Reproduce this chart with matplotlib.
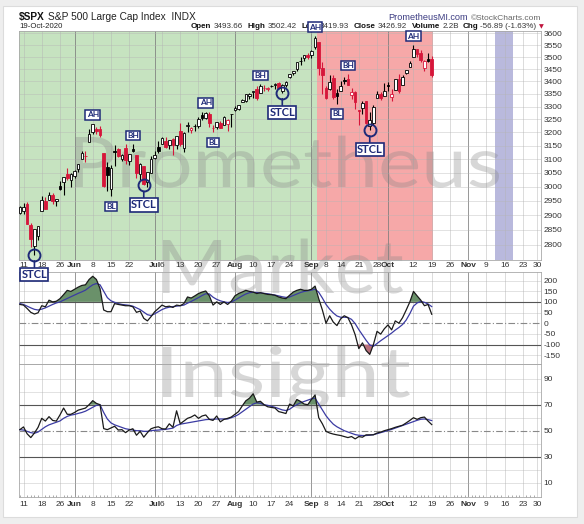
import numpy as np
import matplotlib
matplotlib.use("Agg")
import matplotlib.pyplot as plt
from matplotlib.patches import Rectangle, PathPatch
from matplotlib.textpath import TextPath
from matplotlib.font_manager import FontProperties
from matplotlib.transforms import Affine2D
from matplotlib.ticker import FixedLocator, MultipleLocator, NullLocator, FuncFormatter

plt.rcParams['font.family'] = ['Liberation Sans', 'DejaVu Sans']

# ---------------- data ----------------
dates = ['2020-05-08', '2020-05-11', '2020-05-12', '2020-05-13', '2020-05-14', '2020-05-15',
         '2020-05-18', '2020-05-19', '2020-05-20', '2020-05-21', '2020-05-22',
         '2020-05-26', '2020-05-27', '2020-05-28', '2020-05-29',
         '2020-06-01', '2020-06-02', '2020-06-03', '2020-06-04', '2020-06-05',
         '2020-06-08', '2020-06-09', '2020-06-10', '2020-06-11', '2020-06-12',
         '2020-06-15', '2020-06-16', '2020-06-17', '2020-06-18', '2020-06-19',
         '2020-06-22', '2020-06-23', '2020-06-24', '2020-06-25', '2020-06-26',
         '2020-06-29', '2020-06-30', '2020-07-01', '2020-07-02',
         '2020-07-06', '2020-07-07', '2020-07-08', '2020-07-09', '2020-07-10',
         '2020-07-13', '2020-07-14', '2020-07-15', '2020-07-16', '2020-07-17',
         '2020-07-20', '2020-07-21', '2020-07-22', '2020-07-23', '2020-07-24',
         '2020-07-27', '2020-07-28', '2020-07-29', '2020-07-30', '2020-07-31',
         '2020-08-03', '2020-08-04', '2020-08-05', '2020-08-06', '2020-08-07',
         '2020-08-10', '2020-08-11', '2020-08-12', '2020-08-13', '2020-08-14',
         '2020-08-17', '2020-08-18', '2020-08-19', '2020-08-20', '2020-08-21',
         '2020-08-24', '2020-08-25', '2020-08-26', '2020-08-27', '2020-08-28',
         '2020-08-31', '2020-09-01', '2020-09-02', '2020-09-03', '2020-09-04',
         '2020-09-08', '2020-09-09', '2020-09-10', '2020-09-11',
         '2020-09-14', '2020-09-15', '2020-09-16', '2020-09-17', '2020-09-18',
         '2020-09-21', '2020-09-22', '2020-09-23', '2020-09-24', '2020-09-25',
         '2020-09-28', '2020-09-29', '2020-09-30', '2020-10-01', '2020-10-02',
         '2020-10-05', '2020-10-06', '2020-10-07', '2020-10-08', '2020-10-09',
         '2020-10-12', '2020-10-13', '2020-10-14', '2020-10-15', '2020-10-16',
         '2020-10-19']

opens = [2908.83, 2915.46, 2939.50, 2865.86, 2794.54, 2829.95, 2913.86, 2948.59, 2953.63, 2969.95,
         2948.05, 3004.08, 3015.65, 3046.61, 3025.17, 3038.78, 3064.78, 3098.90, 3111.56, 3163.84,
         3199.92, 3213.32, 3213.42, 3123.53, 3071.04, 2993.76, 3131.00, 3136.13, 3101.64, 3140.29,
         3094.42, 3138.70, 3114.40, 3046.60, 3073.20, 3018.59, 3050.20, 3105.92, 3143.64, 3155.29,
         3166.44, 3153.07, 3176.17, 3152.47, 3205.08, 3141.11, 3225.98, 3208.36, 3224.21, 3224.29,
         3268.52, 3254.86, 3271.64, 3218.58, 3219.84, 3234.27, 3227.22, 3231.76, 3270.45, 3288.26,
         3289.92, 3317.37, 3323.17, 3340.05, 3356.04, 3370.34, 3355.46, 3372.95, 3368.66, 3380.86,
         3387.04, 3392.51, 3360.48, 3386.01, 3418.09, 3435.95, 3449.97, 3485.14, 3494.69, 3509.73,
         3507.44, 3543.76, 3564.74, 3453.60, 3371.88, 3369.82, 3412.56, 3352.70, 3363.56, 3407.73,
         3411.23, 3346.86, 3357.38, 3285.57, 3295.75, 3320.11, 3226.14, 3236.66, 3333.90, 3350.92,
         3341.21, 3385.87, 3338.94, 3367.27, 3408.74, 3384.56, 3434.28, 3459.67, 3500.02, 3534.01,
         3515.47, 3453.72, 3493.50, 3493.66]
highs = [2932.16, 2944.25, 2945.82, 2874.14, 2852.80, 2865.01, 2968.09, 2964.21, 2980.29, 2978.50,
         2956.76, 3021.72, 3036.25, 3068.67, 3049.17, 3062.18, 3081.07, 3130.94, 3128.91, 3211.72,
         3233.13, 3222.71, 3223.27, 3123.53, 3088.42, 3079.76, 3153.45, 3141.16, 3120.00, 3155.53,
         3120.92, 3154.90, 3115.01, 3086.25, 3073.73, 3053.89, 3111.51, 3128.44, 3165.81, 3182.59,
         3184.15, 3171.80, 3179.78, 3186.82, 3235.32, 3200.95, 3238.28, 3220.39, 3233.52, 3258.61,
         3277.29, 3279.32, 3279.99, 3227.26, 3241.43, 3243.72, 3264.74, 3250.92, 3272.17, 3302.73,
         3306.84, 3330.77, 3351.03, 3352.54, 3363.29, 3381.01, 3387.89, 3387.24, 3378.51, 3387.59,
         3395.06, 3399.54, 3390.80, 3399.96, 3432.09, 3444.21, 3481.07, 3501.38, 3509.23, 3514.77,
         3528.03, 3588.11, 3564.85, 3479.15, 3379.97, 3424.77, 3425.55, 3368.95, 3402.93, 3419.48,
         3428.92, 3375.17, 3362.27, 3285.57, 3320.31, 3323.35, 3278.70, 3306.88, 3360.74, 3357.92,
         3393.56, 3397.18, 3369.10, 3409.57, 3431.56, 3426.26, 3447.28, 3482.34, 3549.85, 3534.01,
         3527.94, 3489.08, 3515.76, 3502.42]
lows = [2902.88, 2903.44, 2869.59, 2793.15, 2766.64, 2816.78, 2913.86, 2922.35, 2953.63, 2938.57,
        2933.59, 2988.17, 2969.75, 3023.40, 2998.61, 3031.54, 3051.64, 3098.90, 3090.41, 3163.84,
        3196.00, 3193.11, 3181.49, 2999.49, 2984.47, 2965.66, 3076.06, 3108.03, 3093.51, 3083.11,
        3079.39, 3127.12, 3032.13, 3024.01, 3004.63, 2999.74, 3047.83, 3101.17, 3124.52, 3155.29,
        3142.93, 3136.53, 3115.70, 3136.22, 3149.43, 3127.66, 3200.76, 3198.59, 3205.65, 3215.16,
        3247.77, 3253.10, 3222.66, 3200.05, 3214.25, 3216.17, 3227.22, 3204.13, 3220.26, 3284.53,
        3286.37, 3317.37, 3318.14, 3328.72, 3335.44, 3326.44, 3355.46, 3363.35, 3361.64, 3379.22,
        3370.15, 3369.66, 3354.69, 3379.31, 3413.13, 3425.84, 3444.15, 3468.35, 3484.32, 3493.25,
        3494.60, 3535.23, 3427.41, 3349.63, 3329.27, 3366.84, 3329.25, 3310.47, 3363.56, 3389.25,
        3384.45, 3328.82, 3292.40, 3229.10, 3270.95, 3232.57, 3209.45, 3228.44, 3332.91, 3327.54,
        3340.47, 3361.39, 3323.69, 3367.27, 3354.54, 3384.56, 3428.15, 3458.07, 3499.61, 3500.86,
        3480.55, 3440.89, 3480.45, 3419.93]
closes = [2929.80, 2930.32, 2870.12, 2820.00, 2852.50, 2863.70, 2953.91, 2922.94, 2971.61, 2948.51,
          2955.45, 2991.77, 3036.13, 3029.73, 3044.31, 3055.73, 3080.82, 3122.87, 3112.35, 3193.93,
          3232.39, 3207.18, 3190.14, 3002.10, 3041.31, 3066.59, 3124.74, 3113.49, 3115.34, 3097.74,
          3117.86, 3131.29, 3050.33, 3083.76, 3009.05, 3053.24, 3100.29, 3115.86, 3130.01, 3179.72,
          3145.32, 3169.94, 3152.05, 3185.04, 3155.22, 3197.52, 3226.56, 3215.57, 3224.73, 3251.84,
          3257.30, 3276.02, 3235.66, 3215.63, 3239.41, 3218.44, 3258.44, 3246.22, 3271.12, 3294.61,
          3306.51, 3327.77, 3349.16, 3351.28, 3360.47, 3333.69, 3380.35, 3373.43, 3372.85, 3381.99,
          3389.78, 3374.85, 3385.51, 3397.16, 3431.28, 3443.62, 3478.73, 3484.55, 3508.01, 3500.31,
          3526.65, 3580.84, 3455.06, 3426.96, 3331.84, 3398.96, 3339.19, 3340.97, 3383.54, 3401.20,
          3385.49, 3357.01, 3319.47, 3281.06, 3315.57, 3236.92, 3246.59, 3298.46, 3351.60, 3335.47,
          3363.00, 3380.80, 3348.42, 3408.60, 3360.97, 3419.44, 3446.83, 3477.14, 3534.22, 3511.93,
          3488.67, 3483.34, 3483.81, 3426.92]
prev_close_first = 2881.19
volume_text = '2.2B'

cci = [88, 85, 69, 51, 43, 49, 82, 77, 108, 100, 103,
       115, 134, 154, 149, 159, 169, 177, 180, 205, 220,
       205, 162, 62, 54, 54, 92, 88, 85, 82, 82,
       77, 51, 57, 23, 11, 31, 54, 69, 85, 77,
       80, 74, 85, 82, 92, 123, 118, 128, 139, 146,
       151, 128, 85, 100, 88, 100, 88, 103, 128, 139,
       146, 154, 149, 146, 139, 143, 139, 135, 134, 131,
       123, 118, 115, 131, 146, 154, 159, 154, 154, 159,
       174, 115, 62, 0, 35, 5, -11, 20, 35, 26,
       -8, -54, -119, -92, -128, -146, -100, -38, -51, -26,
       -8, -31, 11, 0, 26, 62, 100, 149, 128, 108,
       82, 88, 42]
cci_signal = [92, 88, 80, 72, 65, 62, 66, 72, 80, 88, 95,
              100, 108, 116, 124, 132, 140, 147, 155, 168, 180,
              186, 180, 150, 120, 105, 98, 92, 88, 86, 84,
              80, 72, 64, 52, 40, 36, 44, 54, 64, 71,
              75, 78, 80, 82, 85, 94, 102, 111, 120, 130,
              138, 137, 122, 112, 105, 100, 97, 99, 108, 118,
              128, 137, 143, 145, 144, 142, 140, 138, 135, 132,
              128, 124, 121, 123, 130, 137, 144, 149, 152, 155,
              160, 145, 118, 88, 66, 48, 34, 28, 28, 27,
              18, -2, -30, -55, -80, -102, -108, -95, -82, -70,
              -58, -46, -32, -20, -6, 15, 45, 80, 95, 102,
              98, 90, 78]
rsi = [50.8, 52.9, 47.6, 44.7, 48.2, 52.6, 59.5, 57.4, 60.8, 57.9, 57.4,
       62.1, 67.4, 62.6, 62.6, 64.0, 65.8, 66.6, 67.4, 70.0, 73.1,
       71.0, 70.0, 51.6, 50.8, 52.1, 53.4, 50.5, 50.8, 48.5, 50.5,
       51.5, 46.5, 49.5, 45.0, 48.5, 51.5, 52.5, 53.0, 51.5, 51.3,
       55.3, 52.6, 65.3, 55.3, 57.4, 59.5, 60.5, 62.1, 59.5, 61.3,
       62.1, 58.7, 57.9, 61.3, 56.8, 58.7, 59.5, 60.5, 62.6, 64.7,
       69.0, 73.0, 75.0, 78.4, 72.0, 72.6, 70.0, 68.4, 67.9, 67.4,
       64.7, 64.0, 63.2, 70.5, 69.0, 74.0, 72.5, 70.5, 70.0, 74.0,
       77.5, 60.0, 55.3, 49.5, 48.2, 47.4, 46.8, 46.3, 45.5, 44.7,
       45.5, 43.7, 45.5, 45.0, 46.8, 46.8, 46.8, 48.2, 48.9, 50.0,
       50.8, 51.6, 52.6, 53.4, 54.2, 56.0, 57.9, 60.0, 58.7, 60.0,
       60.5, 57.4, 54.7]
rsi_signal = [50.8, 50.5, 49.5, 48.5, 48.0, 49.0, 51.0, 53.0, 54.5, 55.5, 56.5,
              57.5, 59.5, 61.0, 62.0, 62.5, 63.3, 64.0, 65.0, 66.5, 68.0,
              69.5, 70.0, 64.0, 59.0, 56.0, 54.5, 53.5, 52.5, 51.5, 51.0,
              50.5, 50.0, 50.0, 49.5, 49.5, 50.0, 50.3, 50.5, 50.8, 51.0,
              51.5, 52.0, 54.0, 55.0, 55.5, 56.0, 56.5, 57.0, 57.5, 58.0,
              58.5, 58.7, 58.8, 59.0, 59.0, 59.0, 59.0, 60.0, 61.0, 62.5,
              64.5, 66.5, 68.5, 70.5, 71.5, 71.0, 70.0, 69.5, 68.8, 68.0,
              67.0, 66.0, 65.5, 66.5, 68.5, 70.0, 71.5, 72.5, 73.5, 74.5,
              75.0, 70.5, 66.0, 61.5, 58.0, 55.0, 53.0, 51.5, 50.0, 49.0,
              48.0, 47.0, 46.5, 46.3, 46.3, 46.5, 47.0, 47.7, 48.5, 49.3,
              50.2, 51.0, 52.0, 53.0, 54.0, 55.0, 56.0, 57.0, 58.0, 58.8,
              59.0, 58.5, 57.8]

# x-axis labels (trading-day slot, label, month flag)
tick_pos = [1, 6, 11, 15, 20, 25, 30, 37, 39, 44, 49, 54, 59, 64, 69, 74, 80, 84, 88, 93,
            98, 101, 108, 113, 118, 123, 128, 133, 138, 142]
tick_labels = ['11', '18', '26', 'Jun', '8', '15', '22', 'Jul', '6', '13', '20', '27', 'Aug',
               '10', '17', '24', 'Sep', '8', '14', '21', '28', 'Oct', '12', '19', '26', 'Nov',
               '9', '16', '23', '30']
month_flags = [lab in ('Jun', 'Jul', 'Aug', 'Sep', 'Oct', 'Nov') for lab in tick_labels]

price_ticks = [2800, 2850, 2900, 2950, 3000, 3050, 3100, 3150, 3200, 3250, 3300, 3350,
               3400, 3450, 3500, 3550, 3600]
cci_ticks = [200, 150, 100, 50, 0, -50, -100, -150]
rsi_ticks = [90, 70, 50, 30, 10]

# annotations (trading-day index)
ah_idx = [20, 51, 81, 108]
bh_idx = [31, 66, 90]
bl_idx = [25, 53, 87]
stcl_idx = [4, 34, 72, 96]

green_zone = (-1.0, 81.5)
red_zone = (81.5, 113.4)
blue_zone = (130.4, 135.2)

# ---------------- figure ----------------
W, H = 584, 524
fig = plt.figure(figsize=(W / 100, H / 100), dpi=100)
fig.patch.set_facecolor('#eeeeee')


def fx(px):
    return px / W


def fy(py):
    return 1 - py / H


fig.add_artist(Rectangle((fx(3), fy(517)), 574 / W, 511 / H, transform=fig.transFigure,
                         facecolor='white', edgecolor='#dcdcdc', lw=0.8, zorder=-2))

L, R = 19, 540.7
ax1 = fig.add_axes([fx(L), fy(260), (R - L) / W, (260 - 31) / H])
ax2 = fig.add_axes([fx(L), fy(364), (R - L) / W, (364 - 272) / H])
ax3 = fig.add_axes([fx(L), fy(497), (R - L) / W, (497 - 364) / H])
ax1.set_zorder(5)
ax2.set_facecolor('none')
ax3.set_facecolor('none')

XL = (-0.235, 142.9)
x = np.arange(len(dates))
o = np.array(opens)
hi = np.array(highs)
lo = np.array(lows)
c = np.array(closes)
navy = '#1e2a78'
red = '#d6163a'

# ---------- main panel ----------
ax1.set_yscale('log')
ax1.set_xlim(*XL)
ax1.set_ylim(2750, 3610)
ax1.axvspan(*green_zone, color='#c6e3c0', lw=0, zorder=0.5)
ax1.axvspan(*red_zone, color='#f6a8a8', lw=0, zorder=0.5)
ax1.axvspan(*blue_zone, color='#b9b9dd', lw=0, zorder=0.5)

for p, m in zip(tick_pos, month_flags):
    for a in (ax1, ax2, ax3):
        a.axvline(p, color='#7a7a7a' if m else '#b4b4b4', lw=0.6,
                  alpha=0.9 if m else 0.55, zorder=1.2)
for pt in price_ticks:
    ax1.axhline(pt, color='#b4b4b4', lw=0.5, alpha=0.55, zorder=1.2)

prev = np.r_[prev_close_first, c[:-1]]
col = np.where(c >= prev, 'black', red)
face = np.where(c > o, 'white', col)
bot = np.minimum(o, c)
hgt = np.maximum(np.abs(c - o), 0.8)
ax1.vlines(x, lo, hi, colors=col, lw=0.8, zorder=3)
ax1.bar(x, hgt, bottom=bot, width=0.72, color=face, edgecolor=col, linewidth=0.6, zorder=4)

lab_kw = dict(textcoords='offset points', ha='center', va='center', color=navy,
              fontweight='bold', family=['Lato', 'DejaVu Sans'], annotation_clip=False, zorder=10)
small_box = dict(boxstyle='square,pad=0.15', fc='white', ec=navy, lw=1.1)
for k in ah_idx:
    ax1.annotate('AH', xy=(k, hi[k]), xytext=(0, 9 * 0.72), fontsize=6, bbox=small_box, **lab_kw)
for k in bh_idx:
    ax1.annotate('BH', xy=(k, hi[k]), xytext=(0, 9 * 0.72), fontsize=6, bbox=small_box, **lab_kw)
for k in bl_idx:
    ax1.annotate('BL', xy=(k, lo[k]), xytext=(0, -10 * 0.72), fontsize=6, bbox=small_box, **lab_kw)
for k in stcl_idx:
    ax1.plot([k], [lo[k]], 'o', ms=8.6, mfc='none', mec=navy, mew=1.4, zorder=9, clip_on=False)
    ax1.annotate('STCL', xy=(k, lo[k]), xytext=(0, -19.5 * 0.72), fontsize=8,
                 bbox=dict(boxstyle='square,pad=0.1', fc='white', ec=navy, lw=1.2),
                 arrowprops=dict(arrowstyle='-', color=navy, lw=1.2, shrinkA=0, shrinkB=6 * 0.72),
                 **lab_kw)

ax1.yaxis.set_major_locator(FixedLocator(price_ticks))
ax1.yaxis.set_minor_locator(NullLocator())
ax1.yaxis.set_major_formatter(FuncFormatter(lambda v, p: '%d' % v))

# ---------- CCI ----------
ax2.set_xlim(*XL)
ax2.set_ylim(-191, 240)
for v in cci_ticks:
    if v in (100, -100):
        ax2.axhline(v, color='#555555', lw=0.8, zorder=1.3)
    elif v == 0:
        ax2.axhline(v, color='#888888', lw=0.8, dashes=(6, 2, 1, 2), zorder=1.3)
    else:
        ax2.axhline(v, color='#b4b4b4', lw=0.5, alpha=0.55, zorder=1.2)
cc = np.array(cci, float)
ax2.fill_between(x, cc, 100, where=cc >= 100, interpolate=True, color='#6a916a', lw=0, zorder=2)
ax2.fill_between(x, cc, -100, where=cc <= -100, interpolate=True, color='#b8707c', lw=0, zorder=2)
ax2.plot(x, cci_signal, color='#3b3ba3', lw=0.9, zorder=3)
ax2.plot(x, cc, color='#1a1a1a', lw=0.9, zorder=4)
ax2.yaxis.set_major_locator(FixedLocator(cci_ticks))
ax2.yaxis.set_major_formatter(FuncFormatter(lambda v, p: '%d' % v))
ax2.set_xticks(tick_pos)
ax2.set_xticklabels([])

# ---------- RSI ----------
ax3.set_xlim(*XL)
ax3.set_ylim(-1, 101.3)
for v in range(10, 100, 10):
    if v in (70, 30):
        ax3.axhline(v, color='#555555', lw=0.8, zorder=1.3)
    elif v == 50:
        ax3.axhline(v, color='#888888', lw=0.8, dashes=(6, 2, 1, 2), zorder=1.3)
    else:
        ax3.axhline(v, color='#b4b4b4', lw=0.5, alpha=0.55, zorder=1.2)
rr = np.array(rsi, float)
ax3.fill_between(x, rr, 70, where=rr >= 70, interpolate=True, color='#6a916a', lw=0, zorder=2)
ax3.fill_between(x, rr, 30, where=rr <= 30, interpolate=True, color='#b8707c', lw=0, zorder=2)
ax3.plot(x, rsi_signal, color='#3b3ba3', lw=0.9, zorder=3)
ax3.plot(x, rr, color='#1a1a1a', lw=0.9, zorder=4)
ax3.yaxis.set_major_locator(FixedLocator(rsi_ticks))

# ---------- axes styling ----------
for a in (ax1, ax2, ax3):
    a.yaxis.tick_right()
    a.tick_params(axis='y', length=0, pad=1.8, labelsize=6, labelcolor='#333333')
    a.tick_params(axis='x', length=0, labelsize=6, labelcolor='#333333')
    for s in a.spines.values():
        s.set_color('#a8a8a8')
        s.set_linewidth(0.6)
for a, pad in ((ax1, 1.4), (ax3, 2.6)):
    a.set_xticks(tick_pos)
    a.set_xticklabels(tick_labels)
    a.tick_params(axis='x', pad=pad)
    for t, m in zip(a.get_xticklabels(), month_flags):
        if m:
            t.set_fontweight('bold')
ax3.xaxis.set_minor_locator(MultipleLocator(1))
ax3.tick_params(axis='x', which='minor', length=1.8, width=0.5, color='#888888', direction='in')

# ---------- watermark ----------
wm_font = FontProperties(family='Lato')
capH = TextPath((0, 0), 'H', size=1, prop=wm_font).get_extents().y1
wm_words = [('Prometheus', 75, 499, 137, 187), ('Market', 163, 403, 240, 293),
            ('Insight', 163, 410, 347, 397)]
for word, x0, x1, yt, yb in wm_words:
    tp = TextPath((0, 0), word, size=1, prop=wm_font)
    ext = tp.get_extents()
    sx = (x1 - x0) / (ext.x1 - ext.x0)
    sy = (yb - yt) / capH
    tr = Affine2D().translate(-ext.x0, 0).scale(sx, sy).translate(x0, H - yb).scale(1 / W, 1 / H)
    fig.add_artist(PathPatch(tp, transform=tr + fig.transFigure, fc='#858585', ec='none',
                             alpha=0.32, zorder=-1))
    ax1.add_artist(PathPatch(tp, transform=tr + fig.transFigure, fc='#858585', ec='none',
                             alpha=0.32, zorder=1.5))

# ---------- header ----------
renderer = fig.canvas.get_renderer()


def seq(xp, yp, parts, size):
    made = []
    for s, w, colr, gap in parts:
        t = fig.text(fx(xp), fy(yp), s, fontsize=size, fontweight=w, color=colr,
                     va='center', ha='left', parse_math=False, zorder=3)
        made.append(t)
        bb = t.get_window_extent(renderer)
        xp = bb.x1 + gap
    return xp, made


seq(19, 17, [('$SPX', 'bold', '#111111', 3),
             ('S&P 500 Large Cap Index  INDX', 'normal', '#222222', 0)], 7.3)
fig.text(fx(19), fy(27), '19-Oct-2020', fontsize=5.6, color='#222222', va='center', ha='left')
chg = c[-1] - c[-2]
pct = chg / c[-2] * 100
row = [('Open', 'bold', '#111111', 2), ('%.2f' % o[-1], 'normal', '#333333', 5),
       ('High', 'bold', '#111111', 2), ('%.2f' % hi[-1], 'normal', '#333333', 5),
       ('Low', 'bold', '#111111', 2), ('%.2f' % lo[-1], 'normal', '#333333', 5),
       ('Close', 'bold', '#111111', 2), ('%.2f' % c[-1], 'normal', '#333333', 5),
       ('Volume', 'bold', '#111111', 2), (volume_text, 'normal', '#333333', 4),
       ('Chg', 'bold', '#111111', 2), ('%.2f (%.2f%%)' % (chg, pct), 'normal', '#333333', 0)]
size = 6.1
end, made = seq(191, 27, row, size)
if end > 534:
    for t in made:
        t.remove()
    size = size * (534 - 191) / (end - 191)
    end, made = seq(191, 27, row, size)
fig.text(fx(end + 2), fy(27), '\u25bc', fontsize=4.5, color='#c0143c', va='center', ha='left',
         family=['DejaVu Sans'])
fig.text(fx(388), fy(18), 'PrometheusMI.com', fontsize=6.6, color='#3c3c82', va='center', ha='left')
fig.text(fx(541), fy(18), '\u00a9StockCharts.com', fontsize=6.0, color='#666666', va='center', ha='right')

fig.savefig('out.png', dpi=100, facecolor=fig.get_facecolor())
